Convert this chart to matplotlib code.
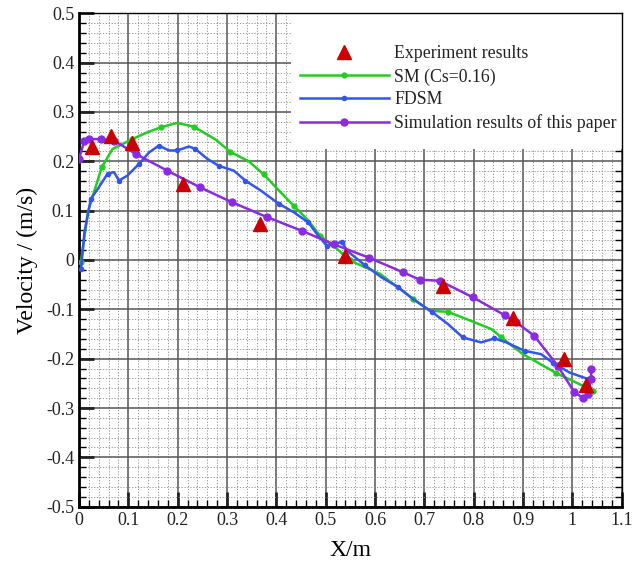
import matplotlib
matplotlib.use("Agg")
import matplotlib.pyplot as plt
from matplotlib.ticker import MultipleLocator, FuncFormatter
from matplotlib.patches import Rectangle

plt.rcParams['font.family'] = ['Liberation Serif', 'DejaVu Serif']

# experiment points
exp_x = [0.026, 0.065, 0.107, 0.211, 0.366, 0.539, 0.738, 0.879, 0.984, 1.028]
exp_y = [0.229, 0.252, 0.238, 0.154, 0.073, 0.009, -0.052, -0.118, -0.200, -0.254]

# SM (Cs=0.16)
sm_x = [0.004, 0.018, 0.046, 0.068, 0.108, 0.139, 0.166, 0.199, 0.233, 0.277, 0.307,
        0.344, 0.374, 0.405, 0.435, 0.462, 0.489, 0.519, 0.549, 0.610, 0.677, 0.711,
        0.748, 0.836, 0.856, 0.900, 0.967, 1.007, 1.041]
sm_y = [-0.004, 0.097, 0.188, 0.225, 0.245, 0.259, 0.269, 0.278, 0.270, 0.244, 0.219,
        0.200, 0.174, 0.141, 0.110, 0.083, 0.049, 0.026, -0.001, -0.028, -0.079, -0.103,
        -0.105, -0.140, -0.157, -0.191, -0.229, -0.248, -0.265]

# FDSM
fd_x = [0.004, 0.011, 0.024, 0.038, 0.058, 0.071, 0.081, 0.098, 0.122, 0.142, 0.162,
        0.182, 0.199, 0.223, 0.236, 0.260, 0.283, 0.314, 0.337, 0.368, 0.405, 0.435,
        0.465, 0.485, 0.502, 0.516, 0.533, 0.543, 0.580, 0.613, 0.647, 0.677, 0.715,
        0.748, 0.778, 0.815, 0.842, 0.866, 0.903, 0.937, 0.960, 0.994, 1.031]
fd_y = [-0.018, 0.056, 0.124, 0.144, 0.175, 0.178, 0.161, 0.171, 0.195, 0.218, 0.232,
        0.222, 0.222, 0.230, 0.225, 0.205, 0.191, 0.181, 0.161, 0.141, 0.114, 0.097,
        0.076, 0.049, 0.029, 0.032, 0.037, 0.019, -0.011, -0.035, -0.055, -0.079, -0.105,
        -0.130, -0.157, -0.167, -0.159, -0.167, -0.184, -0.191, -0.208, -0.228, -0.241]

# simulation results of this paper
sim_x = [0.0, 0.011, 0.021, 0.044, 0.071, 0.115, 0.179, 0.246, 0.310, 0.381, 0.452,
         0.516, 0.587, 0.657, 0.691, 0.731, 0.799, 0.863, 0.886, 0.923, 0.970, 1.004,
         1.021, 1.031, 1.038, 1.038]
sim_y = [0.205, 0.242, 0.245, 0.245, 0.242, 0.215, 0.181, 0.147, 0.117, 0.087, 0.059,
         0.032, 0.005, -0.025, -0.040, -0.042, -0.076, -0.112, -0.126, -0.154, -0.214, -0.268,
         -0.279, -0.272, -0.241, -0.220]

fig = plt.figure(figsize=(6.32, 5.61), dpi=100)
ax = fig.add_axes([0.125, 0.0968, 0.8587, 0.8795])

ax.set_xlim(0, 1.1)
ax.set_ylim(-0.5, 0.5)
ax.xaxis.set_major_locator(MultipleLocator(0.1))
ax.xaxis.set_minor_locator(MultipleLocator(0.02))
ax.yaxis.set_major_locator(MultipleLocator(0.1))
ax.yaxis.set_minor_locator(MultipleLocator(0.02))
fmt = FuncFormatter(lambda v, p: "0" if abs(v) < 1e-9 else "%g" % round(v, 2))
ax.xaxis.set_major_formatter(fmt)
ax.yaxis.set_major_formatter(fmt)

ax.set_axisbelow(True)
ax.grid(which='major', color='#555555', lw=1.1, ls='-')
ax.grid(which='minor', color='#8a8a8a', lw=0.6, ls=(0, (1.5, 2)))

ax.tick_params(which='major', direction='in', length=11, width=2, labelsize=13,
               top=False, right=False, colors='#222222')
ax.tick_params(which='minor', direction='in', length=5, width=1, top=False, right=True)
for s in ['left', 'bottom']:
    ax.spines[s].set_linewidth(2)
for s in ['top', 'right']:
    ax.spines[s].set_linewidth(1)

# white legend area covering the grid
ax.add_patch(Rectangle((0.39, 0.724), 0.61, 0.276, transform=ax.transAxes,
                       facecolor='white', edgecolor='none', zorder=1))

ax.plot(sm_x, sm_y, color='#22cc22', lw=1.8, marker='o', ms=3.5,
        label='SM (Cs=0.16)', zorder=3, markevery=2)
ax.plot(fd_x, fd_y, color='#3355ee', lw=1.8, marker='o', ms=3,
        label='FDSM', zorder=3, markevery=2)
ax.plot(sim_x, sim_y, color='#8a2be2', lw=1.8, marker='o', ms=5,
        label='Simulation results of this paper', zorder=3)
ax.plot(exp_x, exp_y, ls='none', marker='^', ms=10, color='#cc0000',
        label='Experiment results', zorder=4)

h, l = ax.get_legend_handles_labels()
order = [3, 0, 1, 2]
leg = ax.legend([h[i] for i in order], [l[i] for i in order], loc='upper left',
                bbox_to_anchor=(0.407, 0.935), frameon=False, fontsize=12.8,
                handlelength=5.0, handletextpad=0.3, labelspacing=0.33,
                borderpad=0, borderaxespad=0)
for t in leg.get_texts():
    t.set_color('#222222')

ax.set_xlabel('X/m', fontsize=17, labelpad=8)
ax.set_ylabel('Velocity / (m/s)', fontsize=17, labelpad=6)

fig.savefig('out.png', dpi=100)
